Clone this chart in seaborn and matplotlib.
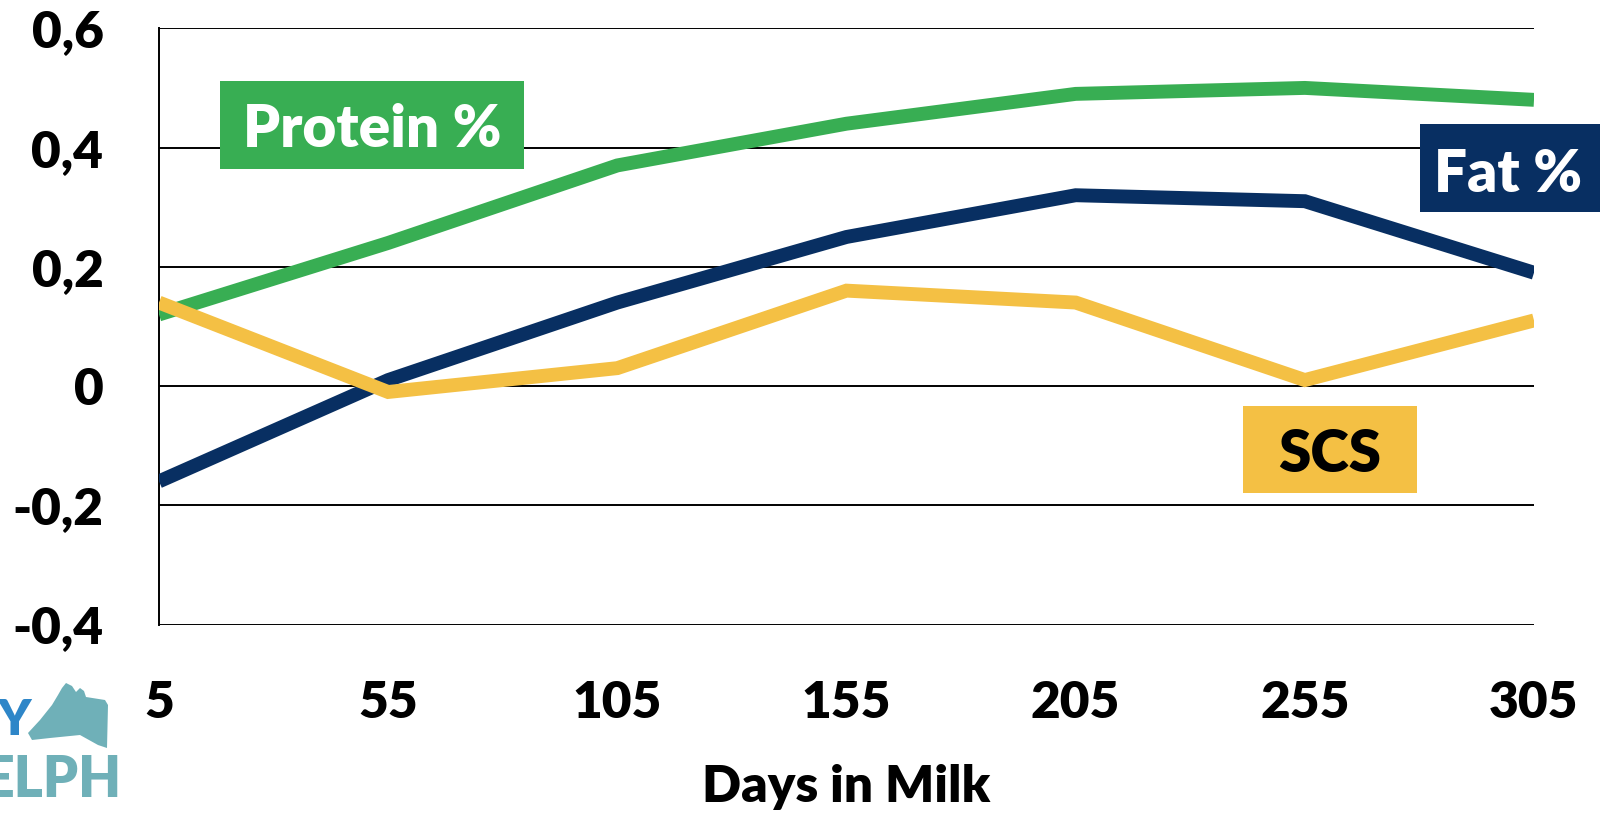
import matplotlib
matplotlib.use("Agg")
import matplotlib.pyplot as plt
from matplotlib.patches import Rectangle, Polygon
import seaborn as sns
import pandas as pd

days = [5, 55, 105, 155, 205, 255, 305]
protein = [0.12, 0.24, 0.37, 0.44, 0.49, 0.50, 0.48]
fat = [-0.16, 0.01, 0.14, 0.25, 0.32, 0.31, 0.19]
scs = [0.14, -0.01, 0.03, 0.16, 0.14, 0.01, 0.11]
series_names = ["Protein %", "Fat %", "SCS"]
y_ticks = [-0.4, -0.2, 0, 0.2, 0.4, 0.6]
y_ticklabels = ["-0,4", "-0,2", "0", "0,2", "0,4", "0,6"]
x_label = "Days in Milk"

colors = {"Protein %": "#38AE53", "Fat %": "#082F62", "SCS": "#F4C044"}

df = pd.DataFrame({
    "Days": days * 3,
    "Value": protein + fat + scs,
    "Trait": [n for n in series_names for _ in days],
})

sns.set_style("white")
plt.rcParams["font.family"] = ["Lato", "DejaVu Sans"]
plt.rcParams["font.weight"] = "heavy"
plt.rcParams["text.color"] = "black"
plt.rcParams["axes.labelcolor"] = "black"
plt.rcParams["xtick.color"] = "black"
plt.rcParams["ytick.color"] = "black"

fig = plt.figure(figsize=(16, 8.13), dpi=100)
W, H = 1600, 813
ax = fig.add_axes([159 / W, 1 - 624.5 / H, (1534 - 159) / W, (624.5 - 28.3) / H])

sns.lineplot(data=df, x="Days", y="Value", hue="Trait", palette=colors,
             linewidth=10, legend=False, ax=ax, zorder=3)
for line in ax.get_lines():
    line.set_solid_capstyle("butt")
    line.set_solid_joinstyle("miter")

ax.set_xlim(5, 305)
ax.set_ylim(-0.4, 0.6)
ax.set_xticks(days)
ax.set_xticklabels([str(d) for d in days])
ax.set_yticks(y_ticks)
ax.set_yticklabels(y_ticklabels)
ax.tick_params(axis="both", length=0, labelsize=37, colors="black")
ax.tick_params(axis="x", pad=40)
ax.tick_params(axis="y", pad=40)
for lbl in ax.get_xticklabels() + ax.get_yticklabels():
    lbl.set_fontweight("heavy")
    lbl.set_color("black")

ax.grid(False)
for y in y_ticks:
    ax.axhline(y, color="black", linewidth=1.4, zorder=1)
for s in ["top", "right", "bottom"]:
    ax.spines[s].set_visible(False)
ax.spines["left"].set_color("black")
ax.spines["left"].set_linewidth(1.4)

ax.set_xlabel(x_label, fontsize=37, fontweight="heavy", labelpad=27, color="black")
ax.set_ylabel("")

def label_box(x0, y0, x1, y1, text, fc, tc, cx=None, cy=None):
    fig.add_artist(Rectangle((x0 / W, 1 - y1 / H), (x1 - x0) / W, (y1 - y0) / H,
                             transform=fig.transFigure, facecolor=fc,
                             edgecolor="none", zorder=5))
    cx = (x0 + x1) / 2 if cx is None else cx
    cy = (y0 + y1) / 2 if cy is None else cy
    fig.text(cx / W, 1 - cy / H, text, color=tc,
             fontsize=42, fontweight="heavy", ha="center", va="center_baseline",
             zorder=6)

label_box(220, 81, 524, 169, "Protein %", colors["Protein %"], "white")
label_box(1420, 124, 1600, 212, "Fat %", colors["Fat %"], "white", cx=1508, cy=170)
label_box(1243, 406, 1417, 493, "SCS", colors["SCS"], "black")

# partial university logo at bottom-left
fig.text(-2 / W, 1 - 735 / H, "Y", color="#2E86C8", fontsize=36,
         fontweight="heavy", ha="left", va="baseline")
fig.text(-18 / W, 1 - 797 / H, "ELPH", color="#6FB0B8", fontsize=40,
         fontweight="heavy", ha="left", va="baseline")
cow = [(62, 688), (66, 683), (72, 686), (76, 692), (80, 688), (84, 691),
       (86, 697), (105, 700), (108, 705), (107, 748), (98, 745), (80, 735),
       (50, 738), (32, 740), (28, 733), (40, 720), (52, 705), (58, 695)]
fig.add_artist(Polygon([(px / W, 1 - py / H) for px, py in cow], closed=True,
                       transform=fig.transFigure, facecolor="#6FB0B8",
                       edgecolor="none", joinstyle="round"))

fig.savefig("out.png", dpi=100)
